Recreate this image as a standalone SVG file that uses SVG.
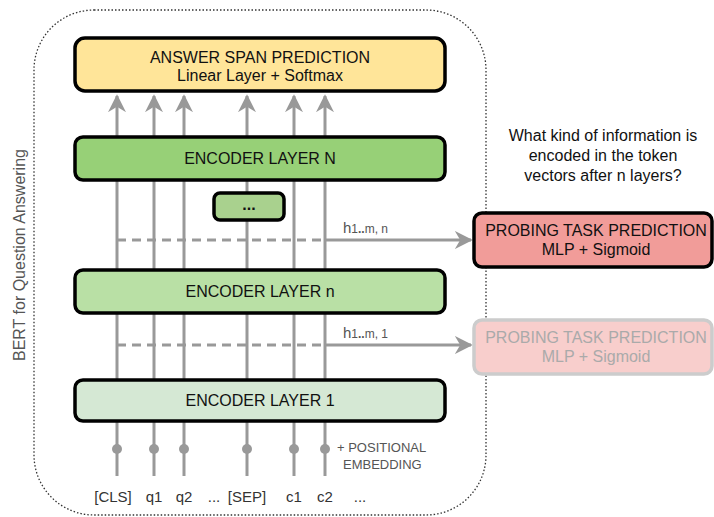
<svg xmlns="http://www.w3.org/2000/svg" width="714" height="517" viewBox="0 0 714 517">
<style>
text{font-family:"Liberation Sans",Arial,sans-serif;}
.box{stroke:#000;stroke-width:3.5;}
.t{font-size:16px;fill:#111;text-anchor:middle;}
.v{stroke:#999;stroke-width:3;fill:none;}
.d{stroke:#999;stroke-width:3;fill:none;stroke-dasharray:9,6;}
.g{fill:#999;}
.lbl{font-size:15px;fill:#555;}
.tok{font-size:15px;fill:#333;text-anchor:middle;}
</style>
<defs>
<marker id="ah2" viewBox="0 0 10 10" refX="9" refY="5" markerWidth="18" markerHeight="18" markerUnits="userSpaceOnUse" orient="auto">
<path d="M0,0 L10,5 L0,10 L3,5 Z" fill="#999"/>
</marker>
</defs>
<rect width="714" height="517" fill="#fff"/>
<rect id="frame" x="34" y="10" width="452" height="505" rx="60" ry="60" fill="none" stroke="#333" stroke-width="1.3" stroke-dasharray="1.5,2"/>
<text transform="translate(25,255) rotate(-90)" font-size="16" fill="#555" text-anchor="middle">BERT for Question Answering</text>
<g id="connectors">
<path class="v" d="M117,476V96" marker-end="url(#ah2)"/>
<path class="v" d="M154,476V96" marker-end="url(#ah2)"/>
<path class="v" d="M184,476V96" marker-end="url(#ah2)"/>
<path class="v" d="M247,476V96" marker-end="url(#ah2)"/>
<path class="v" d="M294,476V96" marker-end="url(#ah2)"/>
<path class="v" d="M325,476V96" marker-end="url(#ah2)"/>
<circle class="g" cx="117" cy="449" r="5"/>
<circle class="g" cx="154" cy="449" r="5"/>
<circle class="g" cx="184" cy="449" r="5"/>
<circle class="g" cx="247" cy="449" r="5"/>
<circle class="g" cx="294" cy="449" r="5"/>
<circle class="g" cx="325" cy="449" r="5"/>
<path class="d" d="M117,240H325"/>
<path class="v" d="M325,240H471" marker-end="url(#ah2)"/>
<path class="d" d="M117,345H325"/>
<path class="v" d="M325,345H471" marker-end="url(#ah2)"/>
<text class="lbl" x="343" y="233">h<tspan font-size="12">1</tspan><tspan font-size="12" font-weight="bold">..</tspan><tspan font-size="12">m, n</tspan></text>
<text class="lbl" x="343" y="338">h<tspan font-size="12">1</tspan><tspan font-size="12" font-weight="bold">..</tspan><tspan font-size="12">m, 1</tspan></text>
</g>
<g id="answer">
<rect class="box" x="75" y="38" width="370" height="53" rx="10" fill="#FFE599"/>
<text class="t" x="260" y="63">ANSWER SPAN PREDICTION</text>
<text class="t" x="260" y="81">Linear Layer + Softmax</text>
</g>
<g id="encN">
<rect class="box" x="75" y="137" width="370" height="43" rx="8" fill="#97D077"/>
<text class="t" x="260" y="164">ENCODER LAYER N</text>
</g>
<g id="dots">
<rect class="box" x="214" y="193" width="70" height="27" rx="6" fill="#A9D18E" stroke-width="3"/>
<text class="t" x="249" y="210" font-weight="bold" font-size="14">...</text>
</g>
<g id="encn">
<rect class="box" x="75" y="270" width="370" height="43" rx="8" fill="#B9E0A5"/>
<text class="t" x="260" y="297">ENCODER LAYER n</text>
</g>
<g id="enc1">
<rect class="box" x="75" y="380" width="370" height="41" rx="8" fill="#D5E8D4"/>
<text class="t" x="260" y="406">ENCODER LAYER 1</text>
</g>
<g id="probeN">
<rect class="box" x="474" y="213" width="238" height="54" rx="8" fill="#F19C99"/>
<text class="t" x="596" y="236">PROBING TASK PREDICTION</text>
<text class="t" x="596" y="255">MLP + Sigmoid</text>
</g>
<g id="probe1">
<rect x="474" y="320" width="238" height="54" rx="8" fill="#F8CECC" stroke="#ccc" stroke-width="3.5"/>
<text class="t" x="596" y="343" style="fill:#aaa">PROBING TASK PREDICTION</text>
<text class="t" x="596" y="362" style="fill:#aaa">MLP + Sigmoid</text>
</g>
<g id="question">
<text class="t" x="603" y="141">What kind of information is</text>
<text class="t" x="603" y="161">encoded in the token</text>
<text class="t" x="603" y="181">vectors after n layers?</text>
</g>
<g id="pos">
<text x="337" y="452" font-size="13" fill="#555">+ POSITIONAL</text>
<text x="343" y="469" font-size="13" fill="#555">EMBEDDING</text>
</g>
<g id="tokens">
<text class="tok" x="113" y="502">[CLS]</text>
<text class="tok" x="154" y="502">q1</text>
<text class="tok" x="184" y="502">q2</text>
<text class="tok" x="214" y="502">...</text>
<text class="tok" x="247" y="502">[SEP]</text>
<text class="tok" x="294" y="502">c1</text>
<text class="tok" x="325" y="502">c2</text>
<text class="tok" x="360" y="502">...</text>
</g>
</svg>
